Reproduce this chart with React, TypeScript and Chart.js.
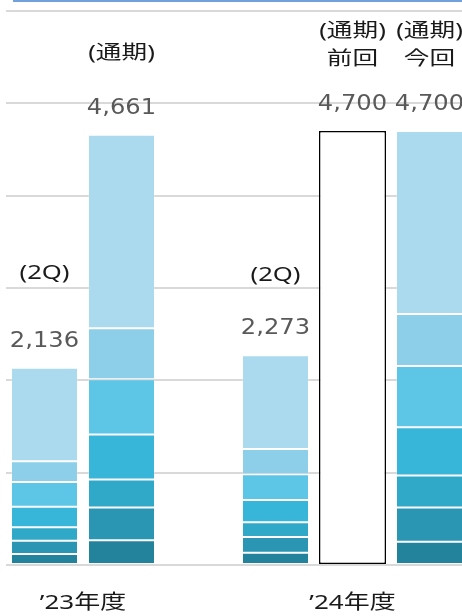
import React, { useEffect, useRef } from 'react';
import { Chart, registerables } from 'chart.js';

Chart.register(...registerables);

// ---- data ----
const categories = ["'23 2Q", "'23 通期", '', "'24 2Q", "'24 通期 前回", "'24 通期 今回"];
const seg1 = [119, 267, null, 133, null, 252];
const seg2 = [144, 357, null, 170, null, 372];
const seg3 = [145, 303, null, 159, null, 346];
const seg4 = [223, 487, null, 241, null, 523];
const seg5 = [267, 598, null, 281, null, 663];
const seg6 = [227, 552, null, 271, null, 563];
const seg7 = [1011, 2097, null, 1018, null, 1981];
const previousPlan = [null, null, null, null, 4700, null];
const totals = [2136, 4661, null, 2273, 4700, 4700];
const valueLabels = ['2,136', '4,661', '', '2,273', '4,700', '4,700'];
const headerLabels = [['(2Q)'], ['(通期)'], [], ['(2Q)'], ['(通期)', '前回'], ['(通期)', '今回']];
const groupLabels = ['’23年度', '’24年度'];
const groupSpans = [[0, 1], [4, 4]];
const yMax = 6000;
const yStep = 1000;

const segColors = ['#24839c', '#2a96b3', '#30a8c8', '#37b6da', '#5dc5e5', '#8dcfe9', '#abdaee'];
const segSeries = [seg1, seg2, seg3, seg4, seg5, seg6, seg7];

const CJK = "'Noto Sans', 'Noto Sans CJK JP', sans-serif";
const NUM = "'DejaVu Sans', sans-serif";

function drawText(ctx: CanvasRenderingContext2D, text: string, x: number, y: number, font: string, color: string, sx: number, baseline: CanvasTextBaseline) {
  ctx.save();
  ctx.font = font;
  ctx.fillStyle = color;
  ctx.textAlign = 'center';
  ctx.textBaseline = baseline;
  ctx.translate(x, y);
  ctx.scale(sx, 1);
  ctx.fillText(text, 0, 0);
  ctx.restore();
}

const headerGaps = [73, 60, 0, 59, 50, 50];

const labelPlugin = {
  id: 'labelPlugin',
  afterDraw(chart: any) {
    const ctx = chart.ctx as CanvasRenderingContext2D;
    const xs = chart.scales.x;
    const ys = chart.scales.y;
    totals.forEach((t, i) => {
      if (t == null) return;
      const cx = xs.getPixelForValue(i);
      const base = ys.getPixelForValue(t) - 21;
      drawText(ctx, valueLabels[i], cx, base, `22px ${NUM}`, '#595959', 1.1, 'alphabetic');
      const lines = headerLabels[i];
      const n = lines.length;
      lines.forEach((ln, k) => {
        const cy = base - headerGaps[i] - (n - 1 - k) * 28;
        drawText(ctx, ln, cx, cy, `19px ${CJK}`, '#1a1a1a', 1.35, 'middle');
      });
    });
    groupLabels.forEach((g, j) => {
      const [a, b] = groupSpans[j];
      const cx = (xs.getPixelForValue(a) + xs.getPixelForValue(b)) / 2;
      drawText(ctx, g, cx, chart.chartArea.bottom + 38.5, `20px ${CJK}`, '#1a1a1a', 1.3, 'middle');
    });
  },
};

function BarChart() {
  const ref = useRef<HTMLCanvasElement>(null);
  useEffect(() => {
    if (!ref.current) return;
    const datasets: any[] = segSeries.map((s, i) => ({
      label: `s${i + 1}`,
      data: s,
      backgroundColor: segColors[i],
      borderColor: 'rgba(255,255,255,0.18)',
      borderWidth: 1,
      borderSkipped: false,
      stack: 'a',
    }));
    datasets.push({
      label: '前回',
      data: previousPlan,
      backgroundColor: '#ffffff',
      borderColor: '#000000',
      borderWidth: 1.5,
      borderSkipped: false,
      stack: 'a',
    });
    const chart = new Chart(ref.current, {
      type: 'bar',
      data: { labels: categories, datasets },
      options: {
        animation: false,
        responsive: false,
        layout: { padding: { left: 6, right: 2, top: 11, bottom: 51 } },
        datasets: { bar: { barPercentage: 0.87, categoryPercentage: 1 } },
        plugins: { legend: { display: false }, tooltip: { enabled: false } },
        scales: {
          x: {
            stacked: true,
            ticks: { display: false },
            grid: { display: false, drawTicks: false },
            border: { display: false },
            afterFit: (s: any) => { s.height = 0; },
          },
          y: {
            stacked: true,
            min: 0,
            max: yMax,
            ticks: { display: false, stepSize: yStep },
            grid: { color: '#d9d9d9', lineWidth: 2, drawTicks: false },
            border: { display: false },
            afterFit: (s: any) => { s.width = 0; },
          },
        },
      },
      plugins: [labelPlugin],
    });
    return () => chart.destroy();
  }, []);
  return <canvas ref={ref} width={470} height={616} style={{ display: 'block' }} />;
}

export default function App() {
  return (
    <div style={{ position: 'fixed', left: 0, top: 0, width: 462, height: 616, overflow: 'hidden', background: '#fff' }}>
      <BarChart />
      <div style={{ position: 'absolute', left: 13, top: 0, right: 0, height: 2, background: '#72a1d9' }} />
    </div>
  );
}
